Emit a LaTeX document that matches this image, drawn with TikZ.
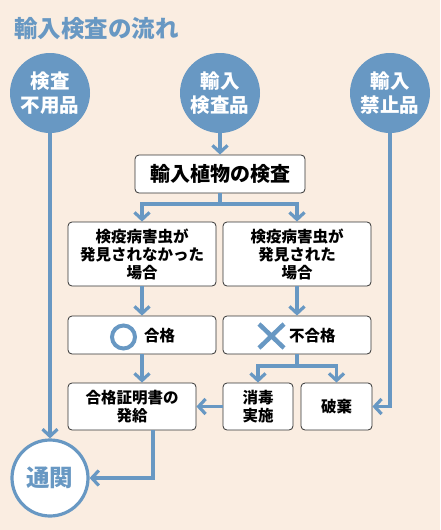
\documentclass[tikz,border=0pt]{standalone}
\usepackage{fontspec}
\setmainfont{Noto Sans CJK JP}
\usetikzlibrary{arrows.meta}
\definecolor{bg}{RGB}{250,237,225}
\definecolor{fb}{RGB}{104,152,195}
\tikzset{
  flow/.style={draw=fb, line width=3.6pt, line join=miter},
  arr/.style={flow, -{Straight Barb[length=7pt,width=15pt,line width=3.2pt]}},
  bigc/.style={circle, fill=fb, minimum size=80pt, inner sep=0pt, text=white, font=\bfseries\fontsize{19.5}{24}\selectfont, align=center},
  box/.style={draw=black!80, line width=0.8pt, fill=white, rounded corners=4pt, align=center, font=\bfseries\fontsize{15.5}{18}\selectfont, inner sep=0pt},
  lbl/.style={font=\bfseries\fontsize{15.5}{18}\selectfont, anchor=west, inner sep=0pt},
}
\begin{document}
\begin{tikzpicture}[x=1pt,y=-1pt]
\fill[bg] (0,0) rectangle (440,530);
\useasboundingbox (0,0) rectangle (440,530);
\node[text=fb, font=\bfseries\fontsize{23.5}{26}\selectfont, anchor=west, inner sep=0pt] (title) at (14,29) {輸入検査の流れ};
% circles
\node[bigc] (c1) at (50,93) {検査\\不用品};
\node[bigc] (c2) at (220,93) {輸入\\検査品};
\node[bigc] (c3) at (390,93) {輸入\\禁止品};
% boxes
\node[box, minimum width=170pt, minimum height=38pt, font=\bfseries\fontsize{20}{24}\selectfont] (insp) at (220,174) {輸入植物の検査};
\node[box, minimum width=148pt, minimum height=64pt] (nf) at (142,254) {検疫病害虫が\\発見されなかった\\場合};
\node[box, minimum width=148pt, minimum height=64pt] (fd) at (297,254) {検疫病害虫が\\発見された\\場合};
\node[box, minimum width=148pt, minimum height=38pt] (ok) at (142,335) {};
\node[box, minimum width=148pt, minimum height=38pt] (ng) at (297,335) {};
\node[box, minimum width=128pt, minimum height=47pt] (cert) at (132,406.5) {合格証明書の\\発給};
\node[box, minimum width=70pt, minimum height=47pt] (dis) at (258,406.5) {消毒\\実施};
\node[box, minimum width=71pt, minimum height=47pt] (des) at (336.5,406.5) {破棄};
% pass / fail marks
\draw[fb, line width=4pt] (123.5,337) circle (11.5pt);
\node[lbl] (okt) at (144,336) {合格};
\draw[fb, line width=4.5pt] (259,324) -- (284,348) (284,324) -- (259,348);
\node[lbl] (ngt) at (289,336) {不合格};
% customs
\node[circle, draw=fb, line width=3.2pt, fill=white, minimum size=76pt, inner sep=0pt, text=fb, font=\bfseries\fontsize{23.5}{26}\selectfont] (tk) at (50,478) {通関};
% connectors
\draw[arr] (c2) -- (insp);
\coordinate (sp) at (220,204);
\draw[flow] (insp.south) -- (sp);
\draw[arr] (sp) -| (nf.north);
\draw[arr] (sp) -| (fd.north);
\draw[arr] (nf) -- (ok);
\draw[arr] (fd) -- (ng);
\draw[arr] (ok) -- (ok.south |- cert.north);
\coordinate (sp2) at (297,366);
\draw[flow] (ng.south) -- (sp2);
\draw[arr] (sp2) -| (dis.north);
\draw[arr] (sp2) -| (des.north);
\draw[arr] (dis) -- (cert);
\draw[arr] (c3) |- (des.east);
\draw[arr] (c1) -- (tk);
\draw[arr] (cert.south -| 153,0) |- (tk.east);
\end{tikzpicture}
\end{document}
